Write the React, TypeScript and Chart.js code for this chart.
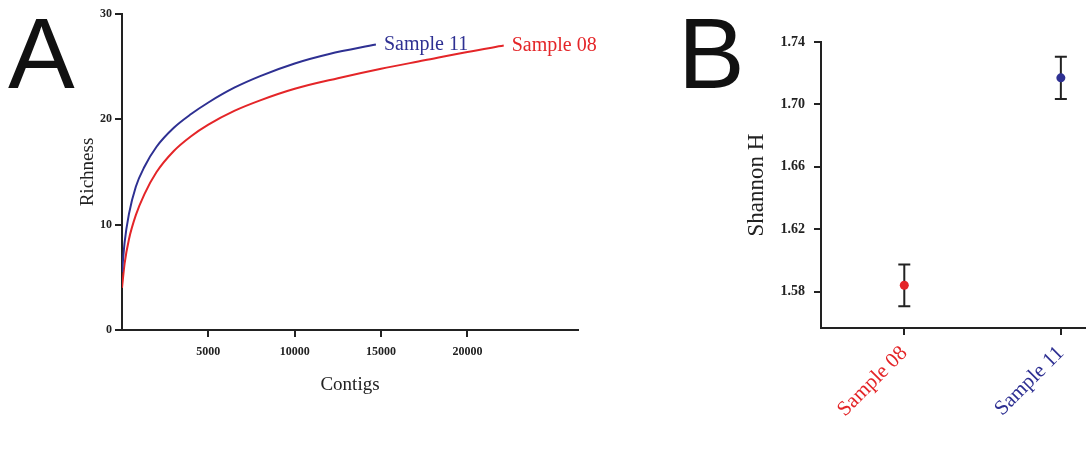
import React, { useEffect, useRef } from "react";
import { Chart, registerables } from "chart.js";

Chart.register(...registerables);

// ---- Panel A: rarefaction curves ----
const sample11Contigs = [0, 150, 400, 800, 1300, 2000, 3000, 4000, 5000, 6500, 8000, 10000, 12000, 14700];
const sample11Richness = [5.5, 8.3, 11.0, 13.6, 15.5, 17.4, 19.2, 20.5, 21.6, 23.0, 24.1, 25.3, 26.2, 27.1];
const sample08Contigs = [0, 150, 400, 800, 1300, 2000, 3000, 4000, 5000, 6500, 8000, 10000, 12500, 15000, 17500, 20000, 22100];
const sample08Richness = [4.0, 6.3, 8.6, 10.9, 12.9, 15.0, 17.0, 18.4, 19.5, 20.8, 21.8, 22.9, 23.9, 24.8, 25.6, 26.4, 27.0];
const richnessTicks = [0, 10, 20, 30];
const contigTicks = [5000, 10000, 15000, 20000];

// ---- Panel B: Shannon diversity ----
const shannonCategories = ["Sample 08", "Sample 11"];
const shannonMeans = [1.584, 1.717];
const shannonErrors = [0.0134, 0.0136];
const shannonTicks = [1.58, 1.62, 1.66, 1.7, 1.74];

const RED = "#E42528";
const BLUE = "#2E3092";
const INK = "#222222";
const SERIF = '"Liberation Serif", "Times New Roman", serif';

const endLabelPlugin = {
  id: "endLabels",
  afterDatasetsDraw(chart: any) {
    const ctx = chart.ctx;
    chart.data.datasets.forEach((ds: any, i: number) => {
      const meta = chart.getDatasetMeta(i);
      const last = meta.data[meta.data.length - 1];
      if (!last) return;
      ctx.save();
      ctx.font = `20px ${SERIF}`;
      ctx.fillStyle = ds.borderColor;
      ctx.textBaseline = "middle";
      ctx.textAlign = "left";
      ctx.fillText(ds.label, last.x + 8, last.y);
      ctx.restore();
    });
  },
};

const errorBarPlugin = {
  id: "errorBars",
  beforeDatasetsDraw(chart: any) {
    const { ctx, scales } = chart;
    const x = scales.x;
    const y = scales.y;
    ctx.save();
    ctx.strokeStyle = INK;
    ctx.lineWidth = 2;
    shannonMeans.forEach((m, i) => {
      const px = x.getPixelForValue(i);
      const top = y.getPixelForValue(m + shannonErrors[i]);
      const bot = y.getPixelForValue(m - shannonErrors[i]);
      ctx.beginPath();
      ctx.moveTo(px, top);
      ctx.lineTo(px, bot);
      ctx.moveTo(px - 6, top);
      ctx.lineTo(px + 6, top);
      ctx.moveTo(px - 6, bot);
      ctx.lineTo(px + 6, bot);
      ctx.stroke();
    });
    ctx.restore();
  },
};

const axisCommon = {
  border: { color: INK, width: 2 },
  grid: { drawOnChartArea: false, color: INK, lineWidth: 2, tickLength: 7 },
};

export default function App() {
  const refA = useRef<HTMLCanvasElement | null>(null);
  const refB = useRef<HTMLCanvasElement | null>(null);

  useEffect(() => {
    const chartA = new Chart(refA.current as HTMLCanvasElement, {
      type: "line",
      data: {
        datasets: [
          {
            label: "Sample 11",
            data: sample11Contigs.map((c, i) => ({ x: c, y: sample11Richness[i] })),
            borderColor: BLUE,
            borderWidth: 2,
            pointRadius: 0,
            cubicInterpolationMode: "monotone",
            fill: false,
          },
          {
            label: "Sample 08",
            data: sample08Contigs.map((c, i) => ({ x: c, y: sample08Richness[i] })),
            borderColor: RED,
            borderWidth: 2,
            pointRadius: 0,
            cubicInterpolationMode: "monotone",
            fill: false,
          },
        ],
      },
      options: {
        animation: false,
        responsive: false,
        layout: { padding: { left: 0, right: 62, top: 14, bottom: 0 } },
        plugins: { legend: { display: false }, tooltip: { enabled: false } },
        scales: {
          x: {
            type: "linear",
            min: 0,
            max: 26400,
            ...axisCommon,
            afterBuildTicks: (s: any) => {
              s.ticks = contigTicks.map((v) => ({ value: v }));
            },
            afterFit: (s: any) => {
              s.height = 120;
            },
            ticks: {
              font: { family: SERIF, size: 12, weight: "bold" },
              color: INK,
              padding: 8,
              maxRotation: 0,
              autoSkip: false,
              callback: (v: any) => String(v),
            },
            title: {
              display: true,
              text: "Contigs",
              color: INK,
              font: { family: SERIF, size: 19 },
              padding: { top: 0, bottom: 54 },
            },
          },
          y: {
            type: "linear",
            min: 0,
            max: 30,
            ...axisCommon,
            afterBuildTicks: (s: any) => {
              s.ticks = richnessTicks.map((v) => ({ value: v }));
            },
            afterFit: (s: any) => {
              s.width = 122;
            },
            ticks: {
              font: { family: SERIF, size: 12, weight: "bold" },
              color: INK,
              padding: 3,
              callback: (v: any) => String(v),
            },
            title: {
              display: true,
              text: "Richness",
              color: INK,
              font: { family: SERIF, size: 19 },
              padding: { top: 77, bottom: 0 },
            },
          },
        },
      },
      plugins: [endLabelPlugin],
    } as any);

    const chartB = new Chart(refB.current as HTMLCanvasElement, {
      type: "scatter",
      data: {
        datasets: [
          {
            label: "Shannon H",
            data: shannonMeans.map((m, i) => ({ x: i, y: m })),
            backgroundColor: [RED, BLUE],
            borderColor: [RED, BLUE],
            pointRadius: 4.5,
            pointBorderWidth: 0,
          },
        ],
      },
      options: {
        animation: false,
        responsive: false,
        layout: { padding: { left: 0, right: 0, top: 42, bottom: 0 } },
        plugins: { legend: { display: false }, tooltip: { enabled: false } },
        scales: {
          x: {
            type: "linear",
            min: -0.532,
            max: 1.151,
            ...axisCommon,
            afterBuildTicks: (s: any) => {
              s.ticks = shannonCategories.map((_, i) => ({ value: i }));
            },
            afterFit: (s: any) => {
              s.height = 122;
            },
            ticks: {
              font: { family: SERIF, size: 21 },
              color: (c: any) => (c.index === 0 ? RED : BLUE),
              padding: 6,
              minRotation: 45,
              maxRotation: 45,
              autoSkip: false,
              callback: (v: any) => shannonCategories[Math.round(v)] ?? "",
            },
          },
          y: {
            type: "linear",
            min: 1.5566,
            max: 1.74,
            ...axisCommon,
            afterBuildTicks: (s: any) => {
              s.ticks = shannonTicks.map((v) => ({ value: v }));
            },
            afterFit: (s: any) => {
              s.width = 181;
            },
            ticks: {
              font: { family: SERIF, size: 14, weight: "bold" },
              color: INK,
              padding: 9,
              callback: (v: any) => Number(v).toFixed(2),
            },
            title: {
              display: true,
              text: "Shannon H",
              color: INK,
              font: { family: SERIF, size: 23 },
              padding: { top: 103, bottom: 0 },
            },
          },
        },
      },
      plugins: [errorBarPlugin],
    } as any);

    return () => {
      chartA.destroy();
      chartB.destroy();
    };
  }, []);

  const letter: React.CSSProperties = {
    position: "absolute",
    top: 3,
    fontFamily: '"Liberation Sans", Arial, sans-serif',
    fontSize: 100,
    lineHeight: "100px",
    color: "#111",
    margin: 0,
  };

  return (
    <div
      style={{
        position: "absolute",
        left: 0,
        top: 0,
        width: 1089,
        height: 450,
        overflow: "hidden",
        background: "#fff",
      }}
    >
      <canvas
        ref={refA}
        width={640}
        height={450}
        style={{ position: "absolute", left: 0, top: 0, width: 640, height: 450 }}
      />
      <canvas
        ref={refB}
        width={449}
        height={450}
        style={{ position: "absolute", left: 640, top: 0, width: 449, height: 450 }}
      />
      <div style={{ ...letter, left: 8 }}>A</div>
      <div style={{ ...letter, left: 678 }}>B</div>
    </div>
  );
}
